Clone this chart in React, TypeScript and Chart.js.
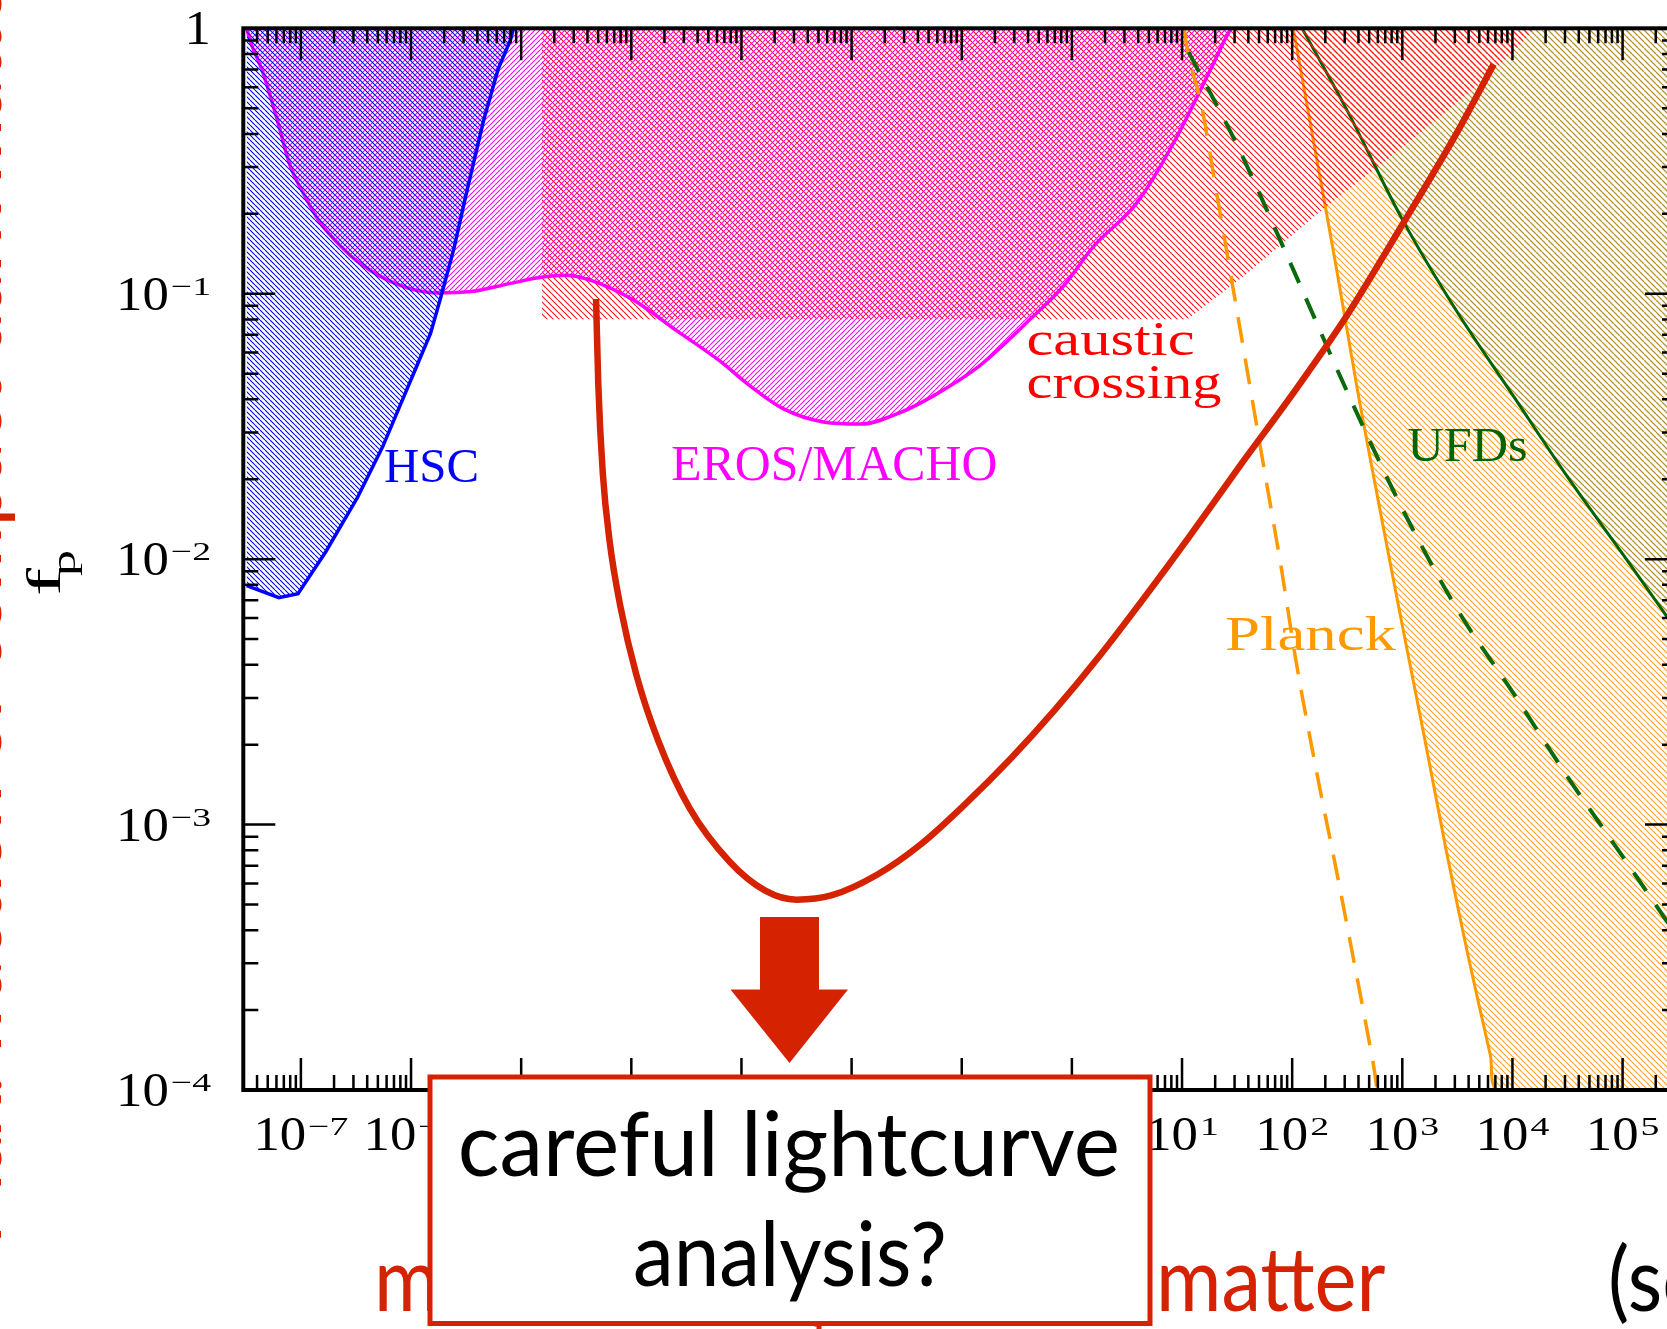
import React, { useEffect, useRef } from "react";
import { Chart, registerables } from "chart.js";

Chart.register(...registerables);

// ---------------- data (log10 of mass [M_sun], log10 of f_p) ----------------
const xRangeLog = [-7.493, 5.494];
const yRangeLog = [-4, 0];

const xTickExponents = [-7, -6, -5, -4, -3, -2, -1, 0, 1, 2, 3, 4, 5];
const yTickExponents = [0, -1, -2, -3, -4];

const hscLog: number[][] = [
  [-7.493, -2.1], [-7.45, -2.106], [-7.2, -2.145], [-7.026, -2.13], [-6.774, -1.972],
  [-6.484, -1.766], [-6.258, -1.577], [-6.097, -1.419], [-5.968, -1.292], [-5.823, -1.15],
  [-5.726, -1.008], [-5.613, -0.834], [-5.484, -0.597], [-5.339, -0.344], [-5.21, -0.155],
  [-5.097, -0.044], [-5.07, 0],
];

const erosMachoLog: number[][] = [
  [-7.493, 0], [-7.45, -0.06], [-7.355, -0.155], [-7.226, -0.329], [-7.097, -0.518],
  [-6.968, -0.629], [-6.839, -0.724], [-6.645, -0.818], [-6.452, -0.889], [-6.129, -0.964],
  [-5.774, -0.997], [-5.452, -0.992], [-5.097, -0.961], [-4.806, -0.937], [-4.6, -0.93],
  [-4.401, -0.945], [-3.996, -1.02], [-3.592, -1.138], [-3.188, -1.256], [-2.945, -1.34],
  [-2.622, -1.433], [-2.257, -1.483], [-1.914, -1.491], [-1.571, -1.45], [-1.246, -1.382],
  [-0.842, -1.273], [-0.358, -1.088], [-0.074, -0.97], [0.19, -0.825], [0.595, -0.655],
  [0.922, -0.433], [1.25, -0.163], [1.43, -0.012], [1.45, 0],
];

const causticLog: number[][] = [
  [-4.813, 0], [-4.813, -1.096], [1.05, -1.096], [1.574, -0.929], [2.295, -0.676],
  [2.885, -0.487], [3.541, -0.265], [4.0, -0.092], [4.2, 0],
];

const planckLog: number[][] = [
  [2.01, 0], [2.2, -0.44], [2.4, -0.9], [2.6, -1.38], [2.8, -1.82], [3.0, -2.25],
  [3.2, -2.67], [3.4, -3.1], [3.6, -3.5], [3.8, -3.87], [3.869, -4],
];

const planckDashedLog: number[][] = [
  [1.02, 0], [1.033, -0.044], [1.18, -0.297], [1.311, -0.613], [1.41, -0.85], [1.508, -1.087],
  [1.639, -1.403], [1.77, -1.719], [1.902, -2.035], [2.033, -2.379], [2.23, -2.819],
  [2.393, -3.155], [2.557, -3.507], [2.689, -3.795], [2.754, -3.947], [2.77, -4],
];

const ufdLog: number[][] = [
  [2.09, 0], [2.5, -0.31], [3.0, -0.72], [3.5, -1.07], [4.0, -1.38], [4.5, -1.69],
  [5.0, -1.98], [5.494, -2.27],
];

const ufdDashedLog: number[][] = [
  [1.06, -0.09], [1.5, -0.44], [2.0, -0.9], [2.5, -1.37], [3.0, -1.81], [3.5, -2.19],
  [4.0, -2.5], [4.5, -2.82], [5.0, -3.12], [5.494, -3.42],
];

const sensitivityLog: number[][] = [
  [-4.32, -1.02], [-4.3, -1.34], [-4.259, -1.676], [-4.198, -1.929], [-4.098, -2.181],
  [-3.956, -2.433], [-3.754, -2.686], [-3.471, -2.938], [-3.107, -3.14], [-2.784, -3.249],
  [-2.5, -3.283], [-2.177, -3.266], [-1.773, -3.19], [-1.368, -3.073], [-0.964, -2.921],
  [-0.559, -2.753], [-0.155, -2.568], [0.249, -2.366], [0.654, -2.147], [1.058, -1.92],
  [1.535, -1.643], [2.0, -1.38], [2.5, -1.08], [3.0, -0.74], [3.5, -0.39], [3.83, -0.135],
];

// region labels: text + anchor (log10 M, log10 f at baseline-left)
const regionLabelTexts = ["HSC", "EROS/MACHO", "caustic", "crossing", "Planck", "UFDs"];
const regionLabelAnchorsLog: number[][] = [
  [-6.245, -1.7095], [-3.637, -1.702], [-0.412, -1.231], [-0.412, -1.393], [1.39, -2.344], [3.048, -1.63],
];

// ---------------- style ----------------
const RED = "#d52200";
const SERIF = '"Liberation Serif", "DejaVu Serif", serif';
const SANS = 'Lato, "Open Sans", sans-serif';
const regionLabelStyle = [
  { color: "#0000ff", size: 48, width: 95 },
  { color: "#ff00ff", size: 50, width: 326 },
  { color: "#ff0000", size: 48, width: 168 },
  { color: "#ff0000", size: 48, width: 195 },
  { color: "#ff9900", size: 48, width: 171 },
  { color: "#006400", size: 48, width: 120 },
];

function drawText(
  ctx: CanvasRenderingContext2D, text: string, x: number, y: number,
  o: { font: string; color: string; align?: "left" | "center" | "right"; width?: number; sx?: number }
) {
  ctx.save();
  ctx.font = o.font;
  ctx.fillStyle = o.color;
  ctx.textAlign = "left";
  ctx.textBaseline = "alphabetic";
  const w = ctx.measureText(text).width;
  const sx = o.width ? o.width / w : o.sx ?? 1;
  const W = w * sx;
  const align = o.align ?? "left";
  const x0 = align === "left" ? x : align === "center" ? x - W / 2 : x - W;
  ctx.translate(x0, y);
  ctx.scale(sx, 1);
  ctx.fillText(text, 0, 0);
  ctx.restore();
  return W;
}

function drawPow(ctx: CanvasRenderingContext2D, exp: number, x: number, baseline: number, align: "center" | "right") {
  const baseFont = `48px ${SERIF}`;
  const expFont = `26px ${SERIF}`;
  const baseSx = 1.1;
  const expSx = 1.45;
  ctx.save();
  if (exp === 0) {
    drawText(ctx, "1", x, baseline, { font: baseFont, color: "#000", align, sx: baseSx });
    ctx.restore();
    return;
  }
  ctx.font = baseFont;
  const bw = ctx.measureText("10").width * baseSx;
  const expStr = exp < 0 ? "\u2212" + -exp : String(exp);
  ctx.font = expFont;
  const ew = ctx.measureText(expStr).width * expSx;
  const gap = 2;
  const total = bw + gap + ew;
  const x0 = align === "center" ? x - total / 2 : x - total;
  drawText(ctx, "10", x0, baseline, { font: baseFont, color: "#000", sx: baseSx });
  drawText(ctx, expStr, x0 + bw + gap, baseline - 15, { font: expFont, color: "#000", sx: expSx });
  ctx.restore();
}

const overlayPlugin = {
  id: "overlay",
  afterDatasetsDraw(chart: any) {
    const ctx: CanvasRenderingContext2D = chart.ctx;
    const xs = chart.scales.x;
    const ys = chart.scales.y;
    regionLabelTexts.forEach((t, i) => {
      const [lx, ly] = regionLabelAnchorsLog[i];
      const st = regionLabelStyle[i];
      drawText(ctx, t, xs.getPixelForValue(10 ** lx), ys.getPixelForValue(10 ** ly), {
        font: `${st.size}px ${SERIF}`, color: st.color, width: st.width,
      });
    });
  },
  afterDraw(chart: any) {
    const ctx: CanvasRenderingContext2D = chart.ctx;
    const a = chart.chartArea;
    const xs = chart.scales.x;
    const ys = chart.scales.y;
    ctx.save();
    // frame
    ctx.strokeStyle = "#000";
    ctx.lineWidth = 4;
    ctx.strokeRect(a.left, a.top, a.right - a.left, a.bottom - a.top);
    // ticks
    ctx.lineWidth = 2.5;
    ctx.beginPath();
    for (let n = -8; n <= 5; n++) {
      for (let k = 1; k <= 9; k++) {
        const v = k * 10 ** n;
        if (v < xs.min || v > xs.max) continue;
        const px = xs.getPixelForValue(v);
        const L = k === 1 ? 32 : 15;
        ctx.moveTo(px, a.bottom);
        ctx.lineTo(px, a.bottom - L);
        ctx.moveTo(px, a.top);
        ctx.lineTo(px, a.top + L);
      }
    }
    for (let n = -4; n <= 0; n++) {
      for (let k = 1; k <= 9; k++) {
        const v = k * 10 ** n;
        if (v < ys.min * 0.999 || v > ys.max * 1.001) continue;
        const py = ys.getPixelForValue(v);
        const L = k === 1 ? 32 : 15;
        ctx.moveTo(a.left, py);
        ctx.lineTo(a.left + L, py);
        ctx.moveTo(a.right, py);
        ctx.lineTo(a.right - L, py);
      }
    }
    ctx.stroke();
    // tick labels
    xTickExponents.forEach((e) => drawPow(ctx, e, xs.getPixelForValue(10 ** e), 1150, "center"));
    yTickExponents.forEach((e) => drawPow(ctx, e, 211, ys.getPixelForValue(10 ** e) + 16, "right"));

    // y-axis title f_p (rotated)
    ctx.save();
    ctx.translate(60, 596);
    ctx.rotate(-Math.PI / 2);
    drawText(ctx, "f", 0, 0, { font: `48px ${SERIF}`, color: "#000", width: 28 });
    drawText(ctx, "p", 20, 15, { font: `34px ${SERIF}`, color: "#000", width: 26 });
    ctx.restore();

    // slide: rotated red text on the left edge (mostly outside the frame)
    ctx.save();
    ctx.font = `84px ${SANS}`;
    const prefW = ctx.measureText("Max. fraction of com").width;
    const lsize = (84 * 719) / prefW;
    ctx.translate(0.5, 1245);
    ctx.rotate(-Math.PI / 2);
    drawText(ctx, "Max. fraction of compact dark matter", 0, 0, { font: `${lsize}px ${SANS}`, color: RED });
    ctx.restore();

    // slide: bottom label
    ctx.font = `89px ${SANS}`;
    const msx = 229.5 / ctx.measureText("matter").width;
    drawText(ctx, "mass of compact dark", 374, 1311, { font: `89px ${SANS}`, color: RED, sx: msx });
    drawText(ctx, "matter", 1156, 1311, { font: `89px ${SANS}`, color: RED, sx: msx });
    drawText(ctx, "(solar mass)", 1608, 1311, { font: `89px ${SANS}`, color: "#000", sx: msx });

    // arrow
    ctx.fillStyle = RED;
    ctx.fillRect(760, 917, 59, 73);
    ctx.beginPath();
    ctx.moveTo(730.5, 989.5);
    ctx.lineTo(848, 989.5);
    ctx.lineTo(789.5, 1063);
    ctx.closePath();
    ctx.fill();

    // box
    ctx.fillRect(816.5, 1322, 5, 8);
    ctx.fillStyle = "#fff";
    ctx.fillRect(430, 1077, 720, 246.5);
    ctx.strokeStyle = RED;
    ctx.lineWidth = 5;
    ctx.strokeRect(430, 1077, 720, 246.5);
    drawText(ctx, "careful lightcurve", 788.8, 1176, { font: `90px ${SANS}`, color: "#000", align: "center", width: 662 });
    drawText(ctx, "analysis?", 790, 1286, { font: `90px ${SANS}`, color: "#000", align: "center", width: 314 });
    ctx.restore();
  },
};

const pts = (arr: number[][]) => arr.map(([lx, ly]) => ({ x: 10 ** lx, y: 10 ** ly }));

export default function App() {
  const ref = useRef<HTMLCanvasElement>(null);
  useEffect(() => {
    const canvas = ref.current!;
    const ctx = canvas.getContext("2d")!;
    const hatch = (color: string, dir: "\\" | "/", s: number, lw: number) => {
      const c = document.createElement("canvas");
      c.width = s;
      c.height = s;
      const g = c.getContext("2d")!;
      g.strokeStyle = color;
      g.lineWidth = lw;
      g.beginPath();
      for (let k = -1; k <= 1; k++) {
        if (dir === "\\") {
          g.moveTo(k * s, 0);
          g.lineTo(k * s + s, s);
        } else {
          g.moveTo(k * s, s);
          g.lineTo(k * s + s, 0);
        }
      }
      g.stroke();
      return ctx.createPattern(c, "repeat")!;
    };
    const blueHatch = hatch("#0000ff", "\\", 5, 1.1);
    const magentaHatch = hatch("#ff00ff", "/", 5, 1.1);
    const redHatch = hatch("#ff1a1a", "\\", 6, 1.2);
    const orangeHatch = hatch("#ffa433", "\\", 6, 1.2);
    const greenHatch = hatch("rgba(0,90,0,0.28)", "\\", 6, 1.3);

    const base = { pointRadius: 0, pointHoverRadius: 0 };
    const chart = new Chart(ctx, {
      type: "line",
      data: {
        datasets: [
          { ...base, label: "Planck", data: pts([...planckLog, [xRangeLog[1], yRangeLog[0]]]), borderColor: "#ff9900", borderWidth: 3, backgroundColor: orangeHatch, fill: "end", tension: 0.3, order: 9 } as any,
          { ...base, label: "UFDs", data: pts(ufdLog), borderColor: "#006400", borderWidth: 3, backgroundColor: greenHatch, fill: "end", cubicInterpolationMode: "monotone", order: 8 },
          { ...base, label: "caustic crossing", data: pts(causticLog), borderWidth: 0, borderColor: "rgba(0,0,0,0)", backgroundColor: redHatch, fill: "end", tension: 0, order: 7 },
          { ...base, label: "EROS/MACHO", data: pts(erosMachoLog), borderColor: "#ff00ff", borderWidth: 3.5, backgroundColor: magentaHatch, fill: "end", cubicInterpolationMode: "monotone", order: 6 },
          { ...base, label: "HSC", data: pts(hscLog), borderColor: "#0000ff", borderWidth: 3.5, backgroundColor: blueHatch, fill: "end", tension: 0, order: 5 },
          { ...base, label: "Planck (dashed)", data: pts(planckDashedLog), borderColor: "#ff9900", borderWidth: 3.5, borderDash: [26, 16], fill: false, cubicInterpolationMode: "monotone", order: 4 },
          { ...base, label: "UFDs (dashed)", data: pts(ufdDashedLog), borderColor: "#0b6a0b", borderWidth: 4, borderDash: [22, 17], fill: false, cubicInterpolationMode: "monotone", order: 3 },
          { ...base, label: "sensitivity", data: pts(sensitivityLog), borderColor: RED, borderWidth: 6.5, fill: false, cubicInterpolationMode: "monotone", order: 0 },
        ],
      },
      options: {
        responsive: false,
        devicePixelRatio: 1,
        animation: false,
        events: [],
        layout: { padding: { left: 243.3, top: 28.3, right: 13, bottom: 239 } },
        plugins: { legend: { display: false }, tooltip: { enabled: false }, filler: { propagate: false } },
        scales: {
          x: { type: "logarithmic", min: 10 ** xRangeLog[0], max: 10 ** xRangeLog[1], display: false },
          y: { type: "logarithmic", min: 10 ** yRangeLog[0], max: 10 ** yRangeLog[1], display: false },
        },
      },
      plugins: [overlayPlugin],
    });
    return () => chart.destroy();
  }, []);
  return (
    <div style={{ position: "fixed", left: 0, top: 0, width: 1667, height: 1329, overflow: "hidden", background: "#fff" }}>
      <canvas ref={ref} width={1690} height={1329} style={{ display: "block", width: 1690, height: 1329 }} />
    </div>
  );
}
